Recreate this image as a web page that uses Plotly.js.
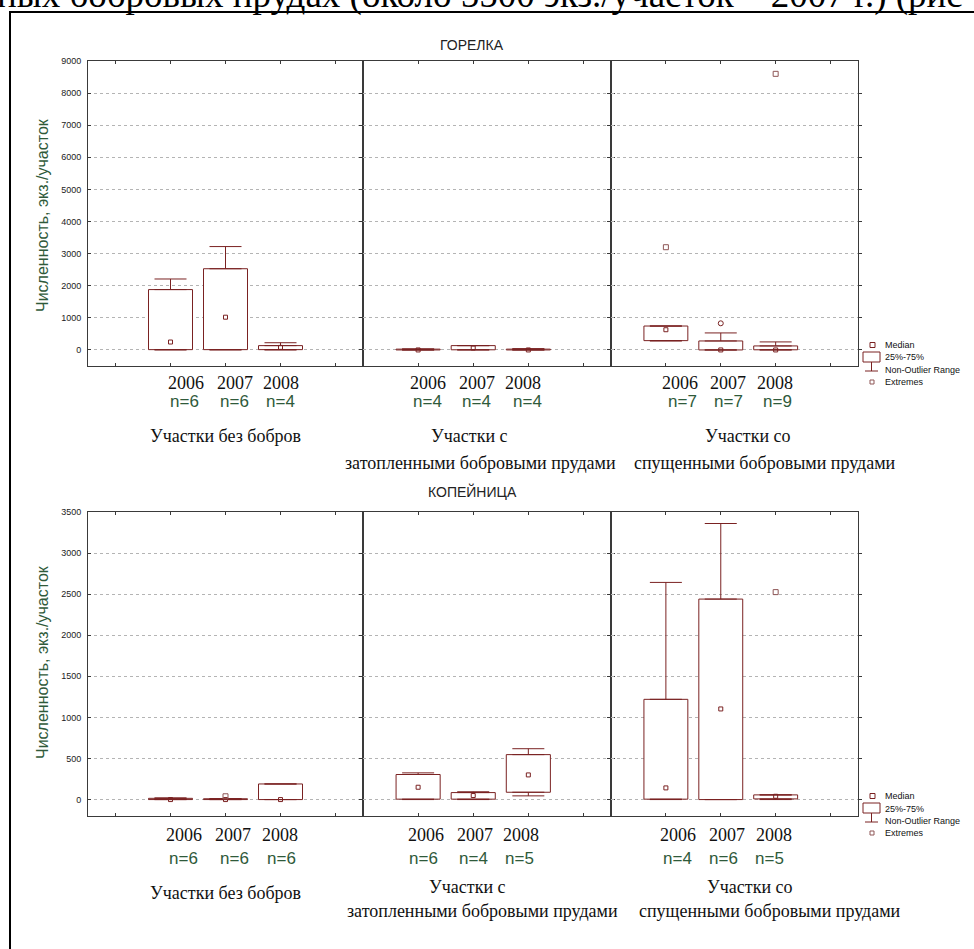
<!DOCTYPE html>
<html><head><meta charset="utf-8">
<script src="https://cdn.plot.ly/plotly-3.0.1.min.js"></script>
<style>html,body{margin:0;padding:0;background:#fff;overflow:hidden;} #chart{width:974px;height:949px;}</style>
</head><body><div id="chart"></div>
<script>
// ---------------- DATA ----------------
const years = ['2006', '2007', '2008'];
const speciesTitles = ['ГОРЕЛКА', 'КОПЕЙНИЦА'];
const siteLabels = [['Участки без бобров'], ['Участки с', 'затопленными бобровыми прудами'], ['Участки со', 'спущенными бобровыми прудами']];
const yAxisTitle = 'Численность, экз./участок';
const legendLabels = ['Median', '25%-75%', 'Non-Outlier Range', 'Extremes'];
const headerText = 'ных бобровых прудах (около 5500 экз./участок – 2007 г.) (рис';

// ГОРЕЛКА — rows: site groups, columns: years
const gorelkaN      = [[6, 6, 4], [4, 4, 4], [7, 7, 9]];
const gorelkaMin    = [[0, 0, 0], [0, 0, 0], [280, 0, 0]];
const gorelkaQ1     = [[10, 10, 10], [0, 5, 0], [290, 0, 5]];
const gorelkaMedian = [[247, 1020, 80], [0, 60, 0], [630, 0, 0]];
const gorelkaQ3     = [[1880, 2530, 135], [25, 135, 25], [745, 280, 125]];
const gorelkaMax    = [[2210, 3220, 225], [30, 135, 40], [745, 530, 250]];
const gorelkaExtremeSite  = [2, 2];
const gorelkaExtremeYear  = ['2006', '2008'];
const gorelkaExtremeValue = [3200, 8600];
const gorelkaOutlierSite  = [2];
const gorelkaOutlierYear  = ['2007'];
const gorelkaOutlierValue = [830];

// КОПЕЙНИЦА
const kopN      = [[6, 6, 6], [6, 4, 5], [4, 6, 5]];
const kopMin    = [[0, 0, 0], [0, 0, 45], [0, 0, 0]];
const kopQ1     = [[0, 0, 0], [5, 5, 89], [5, 0, 8]];
const kopMedian = [[0, 0, 0], [150, 49, 300], [142, 1103, 40]];
const kopQ3     = [[15, 10, 190], [305, 85, 547], [1220, 2440, 57]];
const kopMax    = [[20, 10, 190], [325, 95, 619], [2643, 3360, 57]];
const kopExtremeSite  = [0, 2];
const kopExtremeYear  = ['2007', '2008'];
const kopExtremeValue = [40, 2525];
const kopOutlierSite  = [];
const kopOutlierYear  = [];
const kopOutlierValue = [];

// ---------------- STYLE / LAYOUT ----------------
const W = 974, H = 949;
const PX = x => x / W, PY = y => 1 - y / H;
const BOX = '#7a2222';
const EXT = '#8e5656';
const FRAME = '#3a3a3a';
const SERIF = 'Liberation Serif, Times New Roman, serif';
const SANS = 'Liberation Sans, Arial, sans-serif';
const GREEN = '#2f5a3a';

const traces = [];
function addSpecies(xs, yax, mn, q1, med, q3, mx, exS, exY, exV, olS, olY, olV) {
  for (let g = 0; g < 3; g++) {
    const xa = xs[g];
    traces.push({type: 'bar', x: years, base: q1[g], y: q3[g].map((v, i) => v - q1[g][i]),
      width: 0.8, xaxis: xa, yaxis: yax, showlegend: false, hoverinfo: 'skip',
      marker: {color: 'rgba(255,255,255,1)', line: {color: BOX, width: 1}}});
    traces.push({type: 'scatter', mode: 'markers', x: years, y: q3[g], xaxis: xa, yaxis: yax,
      showlegend: false, hoverinfo: 'skip', marker: {size: 1, opacity: 0},
      error_y: {type: 'data', symmetric: false, array: mx[g].map((v, i) => v - q3[g][i]),
        arrayminus: years.map(() => 0), width: 16, thickness: 1, color: BOX}});
    traces.push({type: 'scatter', mode: 'markers', x: years, y: q1[g], xaxis: xa, yaxis: yax,
      showlegend: false, hoverinfo: 'skip', marker: {size: 1, opacity: 0},
      error_y: {type: 'data', symmetric: false, array: years.map(() => 0),
        arrayminus: q1[g].map((v, i) => v - mn[g][i]), width: 16, thickness: 1, color: BOX}});
    traces.push({type: 'scatter', mode: 'markers', x: years, y: med[g], xaxis: xa, yaxis: yax,
      showlegend: false, hoverinfo: 'skip',
      marker: {symbol: 'square-open', size: 4, color: BOX, line: {color: BOX, width: 1}}});
    const ex = exS.map((s, i) => s === g ? i : -1).filter(i => i >= 0);
    if (ex.length) traces.push({type: 'scatter', mode: 'markers', x: ex.map(i => exY[i]), y: ex.map(i => exV[i]),
      xaxis: xa, yaxis: yax, showlegend: false, hoverinfo: 'skip',
      marker: {symbol: 'square-open', size: 5, color: EXT, line: {color: EXT, width: 1}}});
    const ol = olS.map((s, i) => s === g ? i : -1).filter(i => i >= 0);
    if (ol.length) traces.push({type: 'scatter', mode: 'markers', x: ol.map(i => olY[i]), y: ol.map(i => olV[i]),
      xaxis: xa, yaxis: yax, showlegend: false, hoverinfo: 'skip',
      marker: {symbol: 'circle-open', size: 5, color: BOX, line: {color: BOX, width: 1}}});
  }
}
addSpecies(['x', 'x2', 'x3'], 'y', gorelkaMin, gorelkaQ1, gorelkaMedian, gorelkaQ3, gorelkaMax,
  gorelkaExtremeSite, gorelkaExtremeYear, gorelkaExtremeValue, gorelkaOutlierSite, gorelkaOutlierYear, gorelkaOutlierValue);
addSpecies(['x4', 'x5', 'x6'], 'y2', kopMin, kopQ1, kopMedian, kopQ3, kopMax,
  kopExtremeSite, kopExtremeYear, kopExtremeValue, kopOutlierSite, kopOutlierYear, kopOutlierValue);

// panel geometry (pixels)
const panelX = [[88, 363], [363, 611], [611, 858]];
const panelRanges = [[-0.5, 4.5], [0, 4.5], [0, 4.5]];
const cats = ['_a', ...years, '_b'];

const layout = {
  width: W, height: H, margin: {l: 0, r: 0, t: 0, b: 0},
  paper_bgcolor: '#fff', plot_bgcolor: 'rgba(0,0,0,0)',
  showlegend: false, barmode: 'overlay',
  annotations: [], shapes: []
};
const xBase = {type: 'category', categoryorder: 'array', categoryarray: cats, showline: true, linecolor: FRAME,
  linewidth: 1, mirror: 'allticks', ticks: 'inside', ticklen: 3, tickcolor: FRAME, showticklabels: false,
  showgrid: false, zeroline: false, fixedrange: true};
['', '2', '3', '4', '5', '6'].forEach((s, k) => {
  const p = k % 3;
  layout['xaxis' + s] = Object.assign({}, xBase, {
    domain: [PX(panelX[p][0]), PX(panelX[p][1])], range: panelRanges[p], anchor: k < 3 ? 'y' : 'y2'});
});
const yBase = {showline: true, linecolor: FRAME, linewidth: 1, mirror: 'allticks', ticks: 'inside', ticklen: 3,
  tickcolor: FRAME, showgrid: true, gridcolor: '#b4b4b4', griddash: 'dot', gridwidth: 1, zeroline: false,
  tickfont: {family: SANS, size: 9, color: '#222'}, ticklabelstandoff: 4, tick0: 0, fixedrange: true};
layout.yaxis = Object.assign({}, yBase, {domain: [PY(366), PY(61)], range: [-500, 9000], dtick: 1000, anchor: 'x'});
layout.yaxis2 = Object.assign({}, yBase, {domain: [PY(816), PY(512)], range: [-200, 3500], dtick: 500, anchor: 'x4'});

function ann(text, x, y, opts) {
  layout.annotations.push(Object.assign({text: text, x: PX(x), y: PY(y), xref: 'paper', yref: 'paper',
    showarrow: false, xanchor: 'center', yanchor: 'middle', borderpad: 0}, opts));
}
// header line of the page, cut off at the top edge as in the source scan
ann(headerText, -4, 17, {xanchor: 'left', yanchor: 'bottom', font: {family: SERIF, size: 37, color: '#000'}});
// outer frame
layout.shapes.push({type: 'rect', xref: 'paper', yref: 'paper', x0: PX(10), x1: PX(1000), y0: PY(12), y1: PY(1000),
  line: {color: '#000', width: 2}, fillcolor: 'rgba(0,0,0,0)'});

// species titles and y titles
ann(speciesTitles[0], 472, 45, {font: {family: SANS, size: 14, color: '#222'}});
ann(speciesTitles[1], 472, 491, {font: {family: SANS, size: 14, color: '#222'}});
ann(yAxisTitle, 42, 215, {textangle: -90, font: {family: SANS, size: 16, color: GREEN}});
ann(yAxisTitle, 42, 662, {textangle: -90, font: {family: SANS, size: 16, color: GREEN}});

// year / n labels under panels
const yearXTop = [[186, 235, 281], [428, 477, 523], [680, 728, 775]];
const nXTop    = [[184, 234, 280], [427, 476, 527], [682, 728, 777]];
const yearXBot = [[184, 233, 280], [426, 475, 521], [678, 727, 774]];
const nXBot    = [[183, 234, 281], [423, 473, 519], [677, 723, 769]];
for (let g = 0; g < 3; g++) {
  for (let i = 0; i < 3; i++) {
    ann(years[i], yearXTop[g][i], 383, {font: {family: SERIF, size: 18, color: '#111'}});
    ann('n=' + gorelkaN[g][i], nXTop[g][i], 402, {font: {family: SANS, size: 17, color: GREEN}});
    ann(years[i], yearXBot[g][i], 835, {font: {family: SERIF, size: 18, color: '#111'}});
    ann('n=' + kopN[g][i], nXBot[g][i], 858, {font: {family: SANS, size: 17, color: GREEN}});
  }
}
// site labels
const siteFont = {family: SERIF, size: 18, color: '#111'};
ann(siteLabels[0][0], 225, 436, {font: siteFont});
ann(siteLabels[1][0], 469, 436, {font: siteFont});
ann(siteLabels[1][1], 480, 463, {font: siteFont});
ann(siteLabels[2][0], 748, 436, {font: siteFont});
ann(siteLabels[2][1], 765, 463, {font: siteFont});
ann(siteLabels[0][0], 225, 893, {font: siteFont});
ann(siteLabels[1][0], 467, 887, {font: siteFont});
ann(siteLabels[1][1], 482, 911, {font: siteFont});
ann(siteLabels[2][0], 750, 887, {font: siteFont});
ann(siteLabels[2][1], 770, 911, {font: siteFont});

// legends
function legend(y0) {
  const lf = {family: SANS, size: 9, color: '#111'};
  const rect = (x0, x1, ya, yb, col) => layout.shapes.push({type: 'rect', xref: 'paper', yref: 'paper',
    x0: PX(x0), x1: PX(x1), y0: PY(yb), y1: PY(ya), line: {color: col, width: 1}, fillcolor: 'rgba(0,0,0,0)'});
  const line = (xa, ya, xb, yb) => layout.shapes.push({type: 'line', xref: 'paper', yref: 'paper',
    x0: PX(xa), x1: PX(xb), y0: PY(ya), y1: PY(yb), line: {color: BOX, width: 1}});
  rect(870, 875, y0 - 2.5, y0 + 2.5, BOX);
  ann(legendLabels[0], 884, y0, {xanchor: 'left', font: lf});
  rect(863, 880, y0 + 7, y0 + 17, BOX);
  ann(legendLabels[1], 884, y0 + 12.5, {xanchor: 'left', font: lf});
  line(871.5, y0 + 17, 871.5, y0 + 26);
  line(865, y0 + 26, 878, y0 + 26);
  ann(legendLabels[2], 884, y0 + 25, {xanchor: 'left', font: lf});
  rect(870, 874, y0 + 35, y0 + 39, EXT);
  ann(legendLabels[3], 884, y0 + 37, {xanchor: 'left', font: lf});
}
legend(345);
legend(796);

Plotly.newPlot('chart', traces, layout, {staticPlot: true, displayModeBar: false});
</script>
</body></html>
